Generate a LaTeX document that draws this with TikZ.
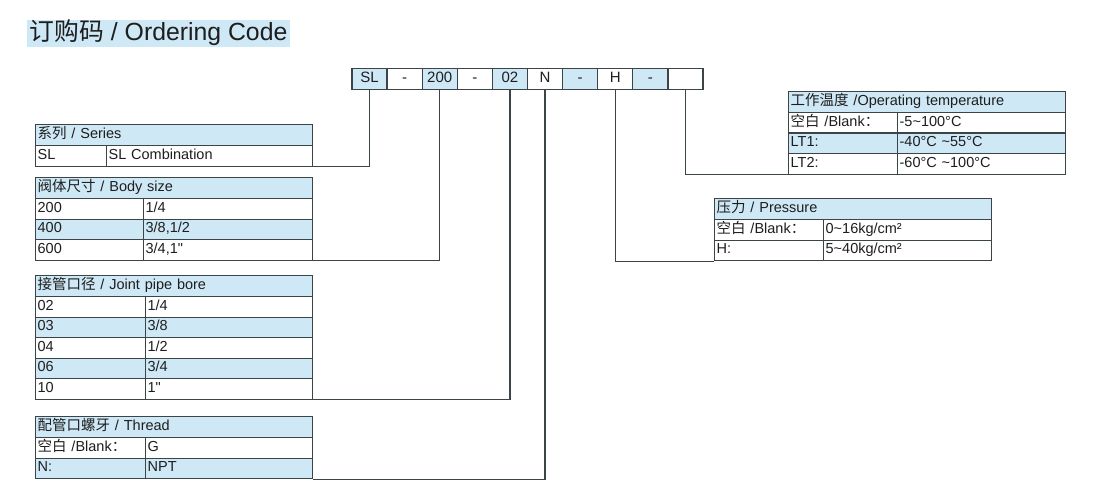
\documentclass[tikz,border=0pt]{standalone}
\usepackage{fontspec}
\setmainfont{Liberation Sans}
\newfontfamily\cjk{Noto Sans CJK SC}
\usepackage{tikz}
\usetikzlibrary{positioning}
\definecolor{lblue}{HTML}{CFE8F6}
\definecolor{rule}{HTML}{3B4447}
\definecolor{ink}{HTML}{1E1E1E}
\newcommand{\tld}{\textasciitilde}
\newcommand{\inch}{\textquotedbl}

\begin{document}
\begin{tikzpicture}[x=1pt, y=-1pt, line width=1.3pt,
    cell/.style={draw=rule, anchor=north west, minimum height=20.5pt, inner xsep=2pt, inner ysep=0pt,
        text height=10pt, text depth=3pt, align=left, text=ink, font=\fontsize{14.5}{16}\selectfont},
    head/.style={cell, fill=lblue, minimum height=21pt},
    codebox/.style={draw=rule, minimum width=35.1pt, minimum height=21pt, inner sep=0pt,
        text height=10pt, text depth=3pt, text=ink, font=\fontsize{15}{17}\selectfont},
    link/.style={draw=rule}]
\useasboundingbox (0,0) rectangle (1100,500);

\node[fill=lblue, anchor=north west, inner xsep=3pt, inner ysep=0pt, minimum height=27pt,
    text=ink, font=\fontsize{24.8}{28}\selectfont] (title) at (26,19) {{\cjk 订购码} / Ordering Code};

% code row
\foreach \lab/\col [count=\i] in {SL/lblue, -/white, 200/lblue, -/white, 02/lblue, N/white, -/lblue, H/white, -/lblue, /white}
{
    \node[codebox, fill=\col] (c\i) at ({352+35.1*(\i-0.5)},79) {\lab};
}

% series
\node[head, text width=273pt] (ser) at (35,124) {{\cjk 系列} / Series};
\foreach \a/\b/\col [count=\i] in {SL/SL Combination/white}
{
    \node[cell, fill=\col, text width=67pt] (ser-\i) at (35,{145+20.5*(\i-1)}) {\a};
    \node[cell, fill=\col, text width=202pt] (ser-\i-r) at (106,{145+20.5*(\i-1)}) {\b};
}

% body size
\node[head, text width=273pt] (body) at (35,177) {{\cjk 阀体尺寸} / Body size};
\foreach \a/\b/\col [count=\i] in {200/{1/4}/white, 400/{3/8,1/2}/lblue, 600/{3/4,1\inch}/white}
{
    \node[cell, fill=\col, text width=104pt] (body-\i) at (35,{198+20.5*(\i-1)}) {\a};
    \node[cell, fill=\col, text width=165pt] (body-\i-r) at (143,{198+20.5*(\i-1)}) {\b};
}

% joint pipe bore
\node[head, text width=273pt] (pipe) at (35,275) {{\cjk 接管口径} / Joint pipe bore};
\foreach \a/\b/\col [count=\i] in {02/{1/4}/white, 03/{3/8}/lblue, 04/{1/2}/white, 06/{3/4}/lblue, 10/{1\inch}/white}
{
    \node[cell, fill=\col, text width=106pt] (pipe-\i) at (35,{296+20.5*(\i-1)}) {\a};
    \node[cell, fill=\col, text width=163pt] (pipe-\i-r) at (145,{296+20.5*(\i-1)}) {\b};
}

% thread
\node[head, text width=273pt] (thr) at (35,416) {{\cjk 配管口螺牙} / Thread};
\foreach \a/\b/\col [count=\i] in {{{\cjk 空白} /Blank{\cjk ：}}/G/white, N:/NPT/lblue}
{
    \node[cell, fill=\col, text width=106pt] (thr-\i) at (35,{437+20.5*(\i-1)}) {\a};
    \node[cell, fill=\col, text width=163pt] (thr-\i-r) at (145,{437+20.5*(\i-1)}) {\b};
}

% operating temperature
\node[head, text width=273pt] (temp) at (788,91) {{\cjk 工作温度} /Operating temperature};
\foreach \a/\b/\col [count=\i] in {{{\cjk 空白} /Blank{\cjk ：}}/{-5\tld100°C}/white, LT1:/{-40°C \tld55°C}/lblue, LT2:/{-60°C \tld100°C}/white}
{
    \node[cell, fill=\col, text width=105pt] (temp-\i) at (788,{112+20.5*(\i-1)}) {\a};
    \node[cell, fill=\col, text width=164pt] (temp-\i-r) at (897,{112+20.5*(\i-1)}) {\b};
}

% pressure
\node[head, text width=273pt] (pre) at (714,198) {{\cjk 压力} / Pressure};
\foreach \a/\b/\col [count=\i] in {{{\cjk 空白} /Blank{\cjk ：}}/{0\tld16kg/cm²}/white, H:/{5\tld40kg/cm²}/white}
{
    \node[cell, fill=\col, text width=105pt] (pre-\i) at (714,{219+20.5*(\i-1)}) {\a};
    \node[cell, fill=\col, text width=164pt] (pre-\i-r) at (823,{219+20.5*(\i-1)}) {\b};
}

% connectors
\draw[link] (c1.south) |- (ser-1-r.south east);
\draw[link] (c3.south) |- (body-3-r.south east);
\draw[link] (c5.south) |- (pipe-5-r.south east);
\draw[link] (c6.south) |- (thr-2-r.south east);
\draw[link] (c8.south) |- (pre-2.south west);
\draw[link] (c10.south) |- (temp-3.south west);

\end{tikzpicture}
\end{document}
